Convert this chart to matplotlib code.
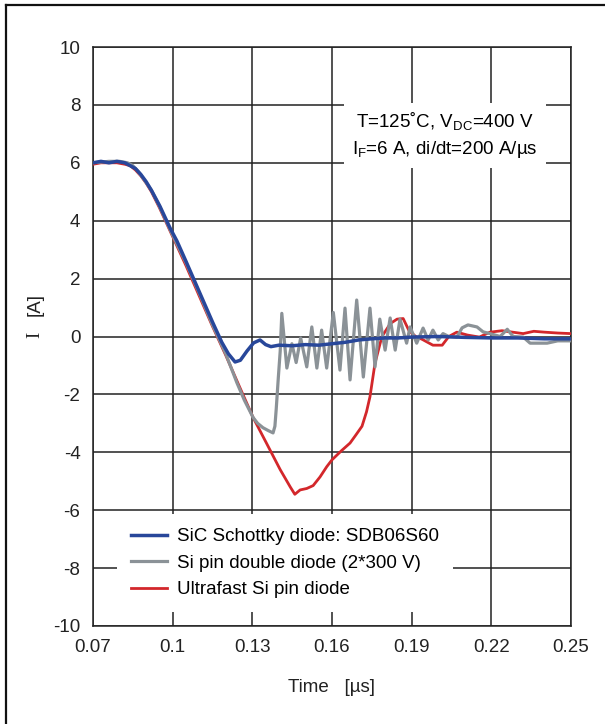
import matplotlib
matplotlib.use("Agg")
import matplotlib.pyplot as plt
from matplotlib.lines import Line2D

plt.rcParams['font.family'] = ['Liberation Sans', 'DejaVu Sans']
plt.rcParams['mathtext.fontset'] = 'custom'
plt.rcParams['mathtext.rm'] = 'Liberation Sans'
plt.rcParams['mathtext.it'] = 'Liberation Sans:italic'
plt.rcParams['axes.unicode_minus'] = False

# reverse recovery current, time in us, current in A
t_sic = [0.070, 0.073, 0.076, 0.079, 0.082, 0.084, 0.086, 0.088, 0.090, 0.092,
         0.0952, 0.099, 0.1016, 0.105, 0.110, 0.115, 0.1185, 0.121,
         0.1235, 0.1255, 0.128, 0.1305, 0.1329, 0.135, 0.137, 0.140, 0.145, 0.150,
         0.155, 0.160, 0.165, 0.170, 0.175, 0.180, 0.185, 0.190, 0.200, 0.210,
         0.220, 0.230, 0.240, 0.250]
i_sic = [6.0, 6.05, 6.0, 6.05, 6.0, 5.9, 5.8, 5.6, 5.35, 5.05,
         4.5, 3.75, 3.3, 2.6, 1.55, 0.5, -0.2, -0.6,
         -0.88, -0.82, -0.5, -0.22, -0.12, -0.28, -0.35, -0.3, -0.32, -0.28,
         -0.3, -0.25, -0.2, -0.12, -0.08, -0.05, -0.05, -0.02, 0.0, -0.03,
         -0.05, -0.05, -0.08, -0.08]

t_pin2 = [0.070, 0.076, 0.080, 0.083, 0.085, 0.087, 0.089, 0.092, 0.095, 0.098,
          0.100, 0.105, 0.110, 0.115, 0.120, 0.1242, 0.127, 0.1303, 0.132, 0.134,
          0.136, 0.1378, 0.1385, 0.139, 0.1398, 0.1405, 0.1411, 0.1430, 0.1449, 0.1465,
          0.1482, 0.1505, 0.1524, 0.1543, 0.1561, 0.1580, 0.1605, 0.1630, 0.1649, 0.1668,
          0.1693, 0.1718, 0.1743, 0.1762, 0.1780, 0.1800, 0.1819, 0.1838, 0.1856, 0.1881,
          0.1894, 0.1919, 0.1943, 0.1962, 0.1980, 0.2000, 0.2018, 0.2040, 0.2070, 0.2090,
          0.2112, 0.2146, 0.2169, 0.2195, 0.2233, 0.2260, 0.2282, 0.2320, 0.2346, 0.2410,
          0.2450, 0.2500]
i_pin2 = [6.0, 6.05, 6.05, 6.0, 5.9, 5.7, 5.45, 5.05, 4.5, 3.9,
          3.5, 2.55, 1.5, 0.4, -0.6, -1.6, -2.2, -2.8, -3.0, -3.15,
          -3.25, -3.33, -3.1, -2.5, -1.4, -0.5, 0.8, -1.09, -0.25, -0.9,
          -0.05, -1.05, 0.33, -1.09, 0.22, -1.09, 0.83, -1.16, 0.98, -1.5,
          1.26, -1.4, 0.98, -1.05, 0.6, -0.47, 0.64, -0.47, 0.6, -0.23,
          0.33, -0.23, 0.29, -0.12, 0.22, -0.12, 0.1, 0.0, -0.02, 0.3,
          0.4, 0.33, 0.16, 0.1, 0.0, 0.25, 0.0, -0.02, -0.23, -0.23,
          -0.15, -0.15]

t_fast = [0.070, 0.073, 0.076, 0.079, 0.082, 0.084, 0.086, 0.088, 0.090, 0.092,
          0.095, 0.098, 0.100, 0.105, 0.110, 0.115, 0.120, 0.125, 0.1303, 0.1353,
          0.1405, 0.1443, 0.146, 0.148, 0.1505, 0.1529, 0.1555, 0.158, 0.160, 0.1635,
          0.1668, 0.169, 0.1713, 0.173, 0.1743, 0.1762, 0.1788, 0.182, 0.1845, 0.1868,
          0.189, 0.1915, 0.194, 0.198, 0.2015, 0.204, 0.207, 0.211, 0.2155, 0.2195,
          0.224, 0.228, 0.232, 0.236, 0.240, 0.245, 0.250]
i_fast = [5.95, 6.0, 6.0, 6.0, 5.95, 5.9, 5.75, 5.55, 5.3, 5.0,
          4.45, 3.85, 3.45, 2.45, 1.4, 0.35, -0.65, -1.7, -2.8, -3.68,
          -4.6, -5.2, -5.45, -5.3, -5.25, -5.15, -4.85, -4.5, -4.26, -3.95,
          -3.68, -3.4, -3.1, -2.6, -2.08, -0.92, 0.0, 0.45, 0.6, 0.62,
          0.2, 0.0, -0.1, -0.3, -0.3, 0.0, 0.15, 0.05, -0.02, 0.15,
          0.2, 0.15, 0.1, 0.18, 0.15, 0.12, 0.1]

labels = ["SiC Schottky diode: SDB06S60", "Si pin double diode (2*300 V)",
          "Ultrafast Si pin diode"]
x_ticks = [0.07, 0.10, 0.13, 0.16, 0.19, 0.22, 0.25]
x_ticklabels = ["0.07", "0.1", "0.13", "0.16", "0.19", "0.22", "0.25"]
y_ticks = [-10, -8, -6, -4, -2, 0, 2, 4, 6, 8, 10]

fig = plt.figure(figsize=(6.05, 7.24), dpi=100)
ax = fig.add_axes([93 / 605, 1 - 626 / 724, 478 / 605, 579 / 724])

l_fast, = ax.plot(t_fast, i_fast, color='#d3272b', lw=2.0, zorder=3)
l_pin2, = ax.plot(t_pin2, i_pin2, color='#8b9297', lw=2.3, zorder=4)
l_sic, = ax.plot(t_sic, i_sic, color='#28479a', lw=2.5, zorder=5)

ax.set_xlim(0.07, 0.25)
ax.set_ylim(-10, 10)
ax.set_xticks(x_ticks)
ax.set_xticklabels(x_ticklabels)
ax.set_yticks(y_ticks)
ax.tick_params(length=0, labelsize=13.5, pad=9, colors='#222222')
ax.grid(True, color='#222222', lw=1.1)
ax.set_axisbelow(True)
for s in ax.spines.values():
    s.set_color('#222222')
    s.set_linewidth(1.1)

leg = ax.legend([l_sic, l_pin2, l_fast], labels, loc='upper left',
                bbox_to_anchor=(24 / 478, 112 / 579), borderaxespad=0,
                fontsize=13.5, handlelength=1.9, handletextpad=0.55,
                labelspacing=0.5, borderpad=0.75, frameon=True, fancybox=False)
leg.get_frame().set_facecolor('white')
leg.get_frame().set_edgecolor('none')
leg.get_frame().set_alpha(1)
leg.set_zorder(10)

ax.text(0.2026, 6.95,
        "T=125˚C, V$_\\mathrm{DC}$=400 V\nI$_\\mathrm{F}$=6 A, di/dt=200 A/µs",
        ha='center', va='center', fontsize=13.5, linespacing=1.45, zorder=10,
        bbox=dict(facecolor='white', edgecolor='none', pad=6))

fig.text(332 / 605, 1 - 688 / 724, "Time   [µs]", ha='center', va='center',
         fontsize=13.5, color='#222222')
fig.text(35 / 605, 1 - 335 / 724, "I", ha='center', va='center', rotation=90,
         fontsize=13.5, family='Liberation Serif', color='#222222')
fig.text(35 / 605, 1 - 305 / 724, "[A]", ha='center', va='center', rotation=90,
         fontsize=13.5, color='#222222')

# outer frame: left and top edges
fig.add_artist(Line2D([6 / 605, 6 / 605], [0, 1 - 5 / 724], transform=fig.transFigure,
                      color='#111111', lw=1.6))
fig.add_artist(Line2D([6 / 605, 1], [1 - 5 / 724, 1 - 5 / 724], transform=fig.transFigure,
                      color='#111111', lw=1.6))

fig.savefig("out.png", dpi=100)
